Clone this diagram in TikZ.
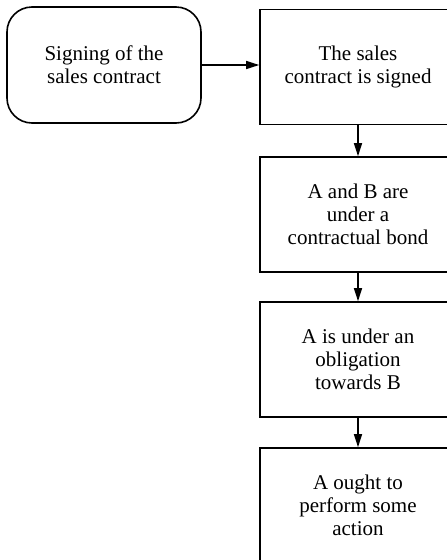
\documentclass[tikz,border=0pt]{standalone}
\usepackage{fontspec}
\setmainfont{Liberation Serif}
\usetikzlibrary{arrows.meta}
\begin{document}
\begin{tikzpicture}[x=1pt,y=1pt,
  every node/.style={font=\fontsize{21}{23}\selectfont, align=center, draw=black, line width=1.6pt},
  roundbox/.style={rectangle, rounded corners=25pt, minimum width=194pt, minimum height=116pt, inner sep=0pt},
  statebox/.style={rectangle, minimum width=196pt, minimum height=115pt, inner sep=0pt},
  conn/.style={line width=1.6pt, -{Triangle[length=13pt,width=8pt]}}]
\useasboundingbox (0,0) rectangle (447,-560);
\node[roundbox] (sign) at (104,-65) {Signing of the\\sales contract};
\node[statebox] (s1) at (358,-67) {The sales\\contract is signed};
\node[statebox] (s2) at (358,-214.5) {A and B are\\under a\\contractual bond};
\node[statebox] (s3) at (358,-359.5) {A is under an\\obligation\\towards B};
\node[statebox] (s4) at (358,-505.5) {A ought to\\perform some\\action};
\draw[conn] (sign.east) -- (sign.east -| s1.west);
\draw[conn] (s1.south) -- (s2.north);
\draw[conn] (s2.south) -- (s3.north);
\draw[conn] (s3.south) -- (s4.north);
\end{tikzpicture}
\end{document}
